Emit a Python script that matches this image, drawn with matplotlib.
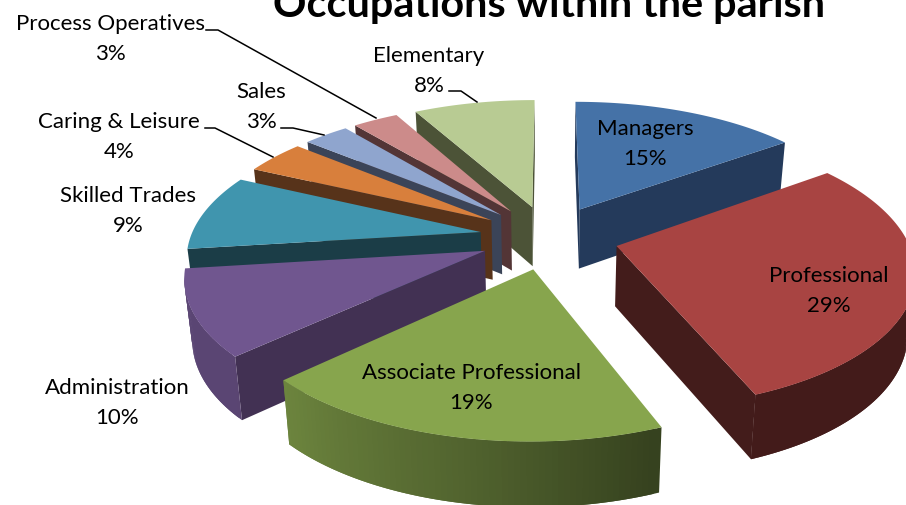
import numpy as np
import matplotlib
matplotlib.use('Agg')
import matplotlib.pyplot as plt

labels = ['Managers', 'Professional', 'Associate Professional', 'Administration',
          'Skilled Trades', 'Caring & Leisure', 'Sales', 'Process Operatives', 'Elementary']
values = [15, 29, 19, 10, 9, 4, 3, 3, 8]

top_colors = ['#4572A7', '#A84442', '#87A54D', '#70568F', '#4095AE',
              '#D87F3C', '#8FA5CE', '#CC8B8A', '#B8CB93']
wall_colors = ['#243A5B', '#431C1B', '#3A4520', '#423153', '#1B3D47',
               '#57331A', '#3B4458', '#533536', '#4C5337']

text_pos = [(645, 142), (829, 289), (471, 386), (117, 401), (128, 209),
            (119, 135), (261, 105), (110, 37), (429, 69)]

# leader lines: label end, elbow, slice
leaders = [[(206, 30), (218, 30), (376, 118)],
           [(281, 128), (293, 128), (324, 135)],
           [(205, 128), (215, 128), (273, 157)],
           [(449, 91), (461, 91), (477, 102)]]

CX, CY = 549, 237
AX, AY = 290, 133
K = 0.16
EXPLODE = 0.24
DEPTH = 60


def project(u, v, bottom=False):
    s = 1 + K * v
    x = CX + AX * u / s
    y = CY - AY * v / s
    if bottom:
        x = CX + (x - CX) * 0.978
        y = y + DEPTH / (1 + 0.07 * v)
    return x, y


def shade(theta):
    # outer wall goes lighter towards the left of the front
    return np.interp(theta, [0, 160, 190, 226, 360], [0.4, 0.4, 0.6, 0.8, 0.85])


def darken(color, f):
    rgb = np.array(matplotlib.colors.to_rgb(color))
    return tuple(rgb * f)


def draw_slice(ax, t0, t1, top, wall):
    mid = np.radians((t0 + t1) / 2)
    eu, ev = EXPLODE * np.sin(mid), EXPLODE * np.cos(mid)
    thetas = np.linspace(t0, t1, max(int(t1 - t0), 2) + 1)
    r = np.radians(thetas)
    us = eu + np.sin(r)
    vs = ev + np.cos(r)

    xt, yt = project(us, vs)
    xb, yb = project(us, vs, bottom=True)
    ap_t = project(eu, ev)
    ap_b = project(eu, ev, bottom=True)

    # a wall shows when its edge runs right to left on the screen
    if xt[0] < ap_t[0]:
        ax.fill([ap_t[0], xt[0], xb[0], ap_b[0]], [ap_t[1], yt[0], yb[0], ap_b[1]],
                color=wall, lw=0)
    if ap_t[0] < xt[-1]:
        ax.fill([ap_t[0], xt[-1], xb[-1], ap_b[0]], [ap_t[1], yt[-1], yb[-1], ap_b[1]],
                color=wall, lw=0)
    n = len(thetas)
    for i in range(n - 1):
        # strips overlap the next one so no seams show
        j = min(i + 2, n - 1)
        if xt[i + 1] < xt[i]:
            c = darken(top, shade((thetas[i] + thetas[i + 1]) / 2))
            ax.fill([xt[i], xt[i + 1], xt[j], xb[j], xb[i + 1], xb[i]],
                    [yt[i], yt[i + 1], yt[j], yb[j], yb[i + 1], yb[i]],
                    color=c, lw=0)
    ax.fill(np.r_[ap_t[0], xt], np.r_[ap_t[1], yt], color=top, lw=0)


fig = plt.figure(figsize=(9.06, 5.05), dpi=100)
ax = fig.add_axes([0, 0, 1, 1])
ax.set_xlim(0, 906)
ax.set_ylim(505, 0)
ax.axis('off')

edges = np.cumsum([0] + values) / sum(values) * 360
mids = (edges[:-1] + edges[1:]) / 2
order = np.argsort(-np.cos(np.radians(mids)))
for i in order:
    draw_slice(ax, edges[i], edges[i + 1], top_colors[i], wall_colors[i])

for pts in leaders:
    ax.plot([p[0] for p in pts], [p[1] for p in pts], color='black', lw=1.1)

for name, val, pos in zip(labels, values, text_pos):
    ax.text(pos[0], pos[1] + 2, f'{name}\n{val}%', ha='center', va='center',
            family='Lato', fontsize=16, linespacing=1.62, color='black')

ax.text(549, 17, 'Occupations within the parish', ha='center', va='baseline',
        family='Lato', fontweight='bold', fontsize=29.8, color='black')

fig.savefig('out.png', dpi=100)
